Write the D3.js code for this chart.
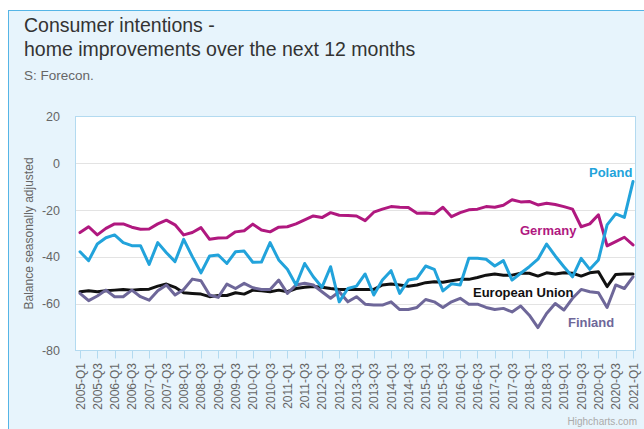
<!DOCTYPE html>
<html>
<head>
<meta charset="utf-8">
<script src="https://cdn.jsdelivr.net/npm/d3@7"></script>
<style>
  body { margin: 0; background: #fff; }
  svg { display: block; font-family: "Liberation Sans", Arial, sans-serif; }
</style>
</head>
<body>
<svg id="chart" width="644" height="429"></svg>
<script>
// quarter labels 2005-Q1 .. 2021-Q1
const quarters = [];
for (let y = 2005; y <= 2021; y++) {
  for (let q = 1; q <= 4; q++) {
    if (y === 2021 && q > 1) break;
    quarters.push(y + "-Q" + q);
  }
}

const yTicks = [20, 0, -20, -40, -60, -80];

const poland = [-37.8, -41.6, -34.5, -31.8, -30.6, -33.9, -35.2, -35.2, -43.2, -33.9, -38.2, -42.0, -32.5,
  -39.9, -46.8, -39.6, -39.2, -42.8, -37.8, -37.5, -42.3, -42.2, -33.9, -41.3, -45.3, -52.0, -42.8, -48.5,
  -53.0, -44.2, -59.2, -53.5, -52.5, -47.3, -56.3, -49.9, -45.9, -55.6, -49.9, -49.2, -43.9, -45.3, -54.5,
  -51.5, -52.0, -40.6, -40.6, -41.0, -43.9, -41.6, -49.9, -47.0, -44.2, -41.0, -34.5, -39.6, -44.2, -48.5,
  -40.6, -45.3, -41.3, -26.3, -21.6, -23.1, -7.8];

const germany = [-29.6, -27.1, -30.6, -27.8, -25.9, -25.9, -27.3, -28.2, -28.1, -25.9, -24.3, -26.3, -30.6,
  -29.6, -27.5, -32.5, -31.9, -31.8, -29.3, -28.8, -26.0, -28.5, -29.3, -27.3, -27.1, -25.9, -24.2, -22.5,
  -23.2, -21.1, -22.2, -22.3, -22.5, -24.5, -20.9, -19.6, -18.5, -18.8, -18.9, -21.3, -21.2, -21.6, -18.8,
  -22.8, -21.1, -19.9, -19.6, -18.5, -18.8, -17.9, -15.6, -16.5, -16.3, -17.8, -17.1, -17.6, -18.5, -19.6,
  -27.1, -25.9, -22.0, -35.3, -33.5, -31.6, -34.9];

const eu = [-54.9, -54.5, -54.9, -54.5, -54.2, -53.9, -54.2, -53.9, -53.8, -52.5, -51.6, -53.0, -55.3,
  -55.6, -55.9, -57.0, -56.5, -56.5, -55.3, -55.9, -54.2, -54.5, -54.9, -54.2, -54.9, -53.5, -53.0, -52.7,
  -53.0, -53.5, -53.9, -53.9, -53.9, -53.9, -53.9, -52.0, -51.6, -52.0, -52.5, -52.0, -51.0, -50.6, -50.8,
  -50.2, -49.6, -49.6, -48.8, -47.8, -47.3, -47.8, -47.8, -47.0, -47.0, -48.2, -46.8, -47.3, -46.8, -47.0,
  -48.2, -46.8, -46.3, -52.7, -47.5, -47.3, -47.3];

const finland = [-55.6, -58.7, -56.7, -54.2, -57.0, -57.0, -54.2, -57.0, -58.5, -54.5, -52.0, -56.3, -53.9,
  -49.5, -50.2, -56.3, -57.3, -51.6, -53.5, -51.3, -53.2, -53.9, -53.9, -49.9, -55.6, -52.0, -51.3, -52.0,
  -54.9, -57.7, -54.9, -59.2, -57.0, -60.2, -60.6, -60.6, -59.2, -62.5, -62.5, -61.6, -58.2, -59.2, -61.6,
  -59.2, -57.7, -60.2, -60.2, -61.6, -62.5, -62.0, -63.5, -61.0, -64.9, -70.2, -64.2, -59.9, -62.7, -57.7,
  -53.9, -54.9, -55.3, -61.6, -52.0, -53.5, -48.5];

const series = [
  { name: "European Union", values: eu, color: "#111111", lx: 473, ly: 297 },
  { name: "Finland", values: finland, color: "#6e6799", lx: 568, ly: 327 },
  { name: "Germany", values: germany, color: "#b0187f", lx: 520, ly: 235 },
  { name: "Poland", values: poland, color: "#22a3db", lx: 589, ly: 177 }
];

const svg = d3.select("#chart");
const plot = { left: 75.5, right: 635.5, top: 116.5, bottom: 350.5 };

// container
svg.append("rect").attr("x", 8.5).attr("y", 10.5).attr("width", 700).attr("height", 500)
  .attr("fill", "#e7f4fc").attr("stroke", "#55b5e6").attr("stroke-width", 1);

svg.append("text").attr("x", 24).attr("y", 32).attr("font-size", 19.5).attr("fill", "#333")
  .text("Consumer intentions -");
svg.append("text").attr("x", 24).attr("y", 56).attr("font-size", 19.5).attr("fill", "#333")
  .text("home improvements over the next 12 months");
svg.append("text").attr("x", 24).attr("y", 80).attr("font-size", 13.5).attr("fill", "#666")
  .text("S: Forecon.");

const x = d3.scalePoint().domain(quarters).range([80, 633]);
const y = d3.scaleLinear().domain([-80, 20]).range([plot.bottom, plot.top]);

svg.append("rect").attr("x", plot.left).attr("y", plot.top)
  .attr("width", plot.right - plot.left).attr("height", plot.bottom - plot.top)
  .attr("fill", "#fff");

// gridlines
svg.append("g").selectAll("line").data(yTicks.filter(d => d > -80 && d < 20)).join("line")
  .attr("x1", plot.left).attr("x2", plot.right)
  .attr("y1", d => Math.round(y(d)) + 0.5).attr("y2", d => Math.round(y(d)) + 0.5)
  .attr("stroke", "#e3e3e3");

svg.append("rect").attr("x", plot.left).attr("y", plot.top)
  .attr("width", plot.right - plot.left).attr("height", plot.bottom - plot.top)
  .attr("fill", "none").attr("stroke", "#b3daf0");

// y axis labels
svg.append("g").selectAll("text").data(yTicks).join("text")
  .attr("x", 60).attr("y", d => y(d) + 4.5)
  .attr("text-anchor", "end").attr("font-size", 12.5).attr("fill", "#666")
  .text(d => d);

svg.append("text")
  .attr("transform", `translate(33,${(plot.top + plot.bottom) / 2}) rotate(-90)`)
  .attr("text-anchor", "middle").attr("font-size", 12).attr("fill", "#666")
  .text("Balance seasonally adjusted");

// x axis ticks and labels (every second quarter)
const shown = quarters.filter((d, i) => i % 2 === 0);
const xg = svg.append("g");
xg.selectAll("line").data(shown).join("line")
  .attr("x1", d => Math.round(x(d)) + 0.5).attr("x2", d => Math.round(x(d)) + 0.5)
  .attr("y1", plot.bottom).attr("y2", plot.bottom + 8)
  .attr("stroke", "#b3daf0");
xg.selectAll("text").data(shown).join("text")
  .attr("transform", d => `translate(${x(d) + 4.5},363) rotate(-90)`)
  .attr("text-anchor", "end").attr("font-size", 12).attr("fill", "#666")
  .text(d => d);

// lines
const line = d3.line().x((d, i) => x(quarters[i])).y(d => y(d));
svg.append("g").selectAll("path").data(series).join("path")
  .attr("d", d => line(d.values))
  .attr("fill", "none").attr("stroke", d => d.color)
  .attr("stroke-width", 3).attr("stroke-linejoin", "round").attr("stroke-linecap", "round");

svg.append("g").selectAll("text").data(series).join("text")
  .attr("x", d => d.lx).attr("y", d => d.ly)
  .attr("font-size", 13).attr("font-weight", "bold").attr("fill", d => d.color)
  .text(d => d.name);

svg.append("text").attr("x", 637).attr("y", 425).attr("text-anchor", "end")
  .attr("font-size", 10).attr("fill", "#aaa").text("Highcharts.com");
</script>
</body>
</html>
